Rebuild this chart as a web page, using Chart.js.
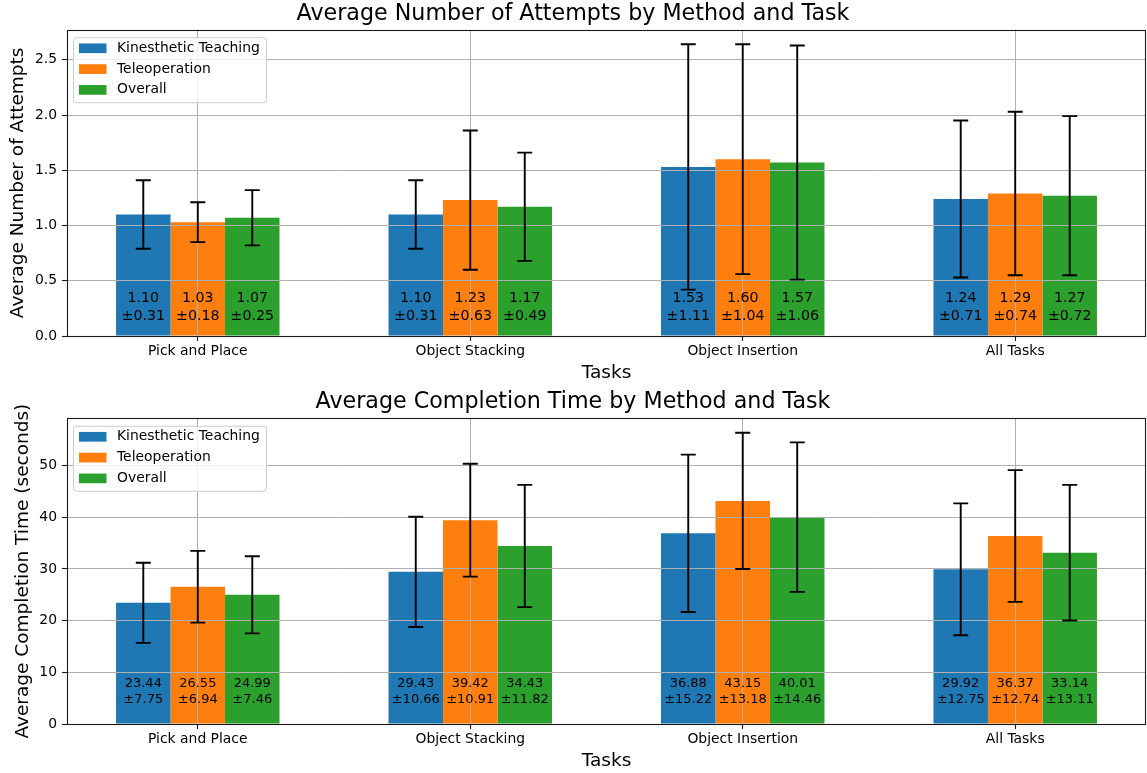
<!DOCTYPE html>
<html><head><meta charset="utf-8">
<script src="https://cdn.jsdelivr.net/npm/chart.js@4.4.1/dist/chart.umd.min.js"></script>
<style>
html,body{margin:0;padding:0;background:#fff;}
#wrap{position:relative;width:1147px;height:773px;overflow:hidden;background:#fff;}
#c1{position:absolute;left:0;top:0;}
#c2{position:absolute;left:0;top:386px;}
</style></head><body>
<div id="wrap"><canvas id="c1" width="1147" height="386"></canvas><canvas id="c2" width="1147" height="387"></canvas></div>
<script>
// ---- data ----
const tasks = ['Pick and Place', 'Object Stacking', 'Object Insertion', 'All Tasks'];
const methods = ['Kinesthetic Teaching', 'Teleoperation', 'Overall'];
const methodColors = ['#1f77b4', '#ff7f0e', '#2ca02c'];

const attemptsKT = [1.10, 1.10, 1.53, 1.24];
const attemptsKTStd = [0.31, 0.31, 1.11, 0.71];
const attemptsTele = [1.03, 1.23, 1.60, 1.29];
const attemptsTeleStd = [0.18, 0.63, 1.04, 0.74];
const attemptsAll = [1.07, 1.17, 1.57, 1.27];
const attemptsAllStd = [0.25, 0.49, 1.06, 0.72];

const timeKT = [23.44, 29.43, 36.88, 29.92];
const timeKTStd = [7.75, 10.66, 15.22, 12.75];
const timeTele = [26.55, 39.42, 43.15, 36.37];
const timeTeleStd = [6.94, 10.91, 13.18, 12.74];
const timeAll = [24.99, 34.43, 40.01, 33.14];
const timeAllStd = [7.46, 11.82, 14.46, 13.11];

const attemptsTicks = [0, 0.5, 1.0, 1.5, 2.0, 2.5];
const timeTicks = [0, 10, 20, 30, 40, 50];

const FONT = "'DejaVu Sans', 'Liberation Sans', sans-serif";
Chart.defaults.font.family = FONT;
Chart.defaults.color = '#000';

const overlay = {
  id: 'overlay',
  afterDraw(chart, args, o) {
    const ctx = chart.ctx, ca = chart.chartArea, ys = chart.scales.y;
    ctx.save();
    // error bars
    ctx.strokeStyle = '#000';
    ctx.lineWidth = 1.9;
    chart.data.datasets.forEach((ds, di) => {
      const meta = chart.getDatasetMeta(di);
      meta.data.forEach((bar, i) => {
        const m = ds.data[i].y, s = ds.errors[i];
        const yTop = ys.getPixelForValue(m + s), yBot = ys.getPixelForValue(m - s);
        const x = bar.x, cw = 7.5;
        ctx.beginPath();
        ctx.moveTo(x, yTop); ctx.lineTo(x, yBot);
        ctx.moveTo(x - cw, yTop); ctx.lineTo(x + cw, yTop);
        ctx.moveTo(x - cw, yBot); ctx.lineTo(x + cw, yBot);
        ctx.stroke();
      });
    });
    // value labels
    ctx.fillStyle = '#000';
    ctx.textAlign = 'center';
    ctx.textBaseline = 'middle';
    ctx.font = o.valueFont + 'px ' + FONT;
    chart.data.datasets.forEach((ds, di) => {
      const meta = chart.getDatasetMeta(di);
      meta.data.forEach((bar, i) => {
        ctx.fillText(ds.data[i].y.toFixed(2), bar.x, ca.bottom - o.line1);
        ctx.fillText('\u00b1' + ds.errors[i].toFixed(2), bar.x, ca.bottom - o.line2);
      });
    });
    // frame (spines)
    ctx.strokeStyle = '#1a1a1a';
    ctx.lineWidth = 1.1;
    ctx.strokeRect(Math.round(ca.left) + 0.5, Math.round(ca.top) + 0.5, Math.round(ca.right - ca.left) - 1, Math.round(ca.bottom - ca.top));
    // legend
    const lx = ca.left + 6, ly = ca.top + 7.5, lw = 193, lh = 65;
    ctx.beginPath();
    if (ctx.roundRect) ctx.roundRect(lx + 0.5, ly + 0.5, lw, lh, 3); else ctx.rect(lx + 0.5, ly + 0.5, lw, lh);
    ctx.fillStyle = 'rgba(255,255,255,0.8)';
    ctx.fill();
    ctx.strokeStyle = '#cccccc';
    ctx.lineWidth = 1;
    ctx.stroke();
    ctx.textAlign = 'left';
    ctx.font = '13.9px ' + FONT;
    chart.data.datasets.forEach((ds, di) => {
      const cy = ly + 11 + di * 20.8;
      ctx.fillStyle = ds.backgroundColor;
      ctx.fillRect(lx + 6, cy - 4.8, 27.5, 9.7);
      ctx.fillStyle = '#000';
      ctx.fillText(ds.label, lx + 44, cy);
    });
    ctx.restore();
  }
};

function makeChart(id, series, stds, ticks, cfg) {
  const datasets = methods.map((name, k) => ({
    label: name,
    data: series[k].map((v, i) => ({ x: i, y: v })),
    errors: stds[k],
    backgroundColor: methodColors[k],
    borderWidth: 0,
    categoryPercentage: 0.6,
    barPercentage: 1.0
  }));
  let top = 0;
  series.forEach((s, k) => s.forEach((v, i) => { top = Math.max(top, v + stds[k][i]); }));
  return new Chart(document.getElementById(id), {
    type: 'bar',
    data: { datasets },
    plugins: [overlay],
    options: {
      responsive: false,
      animation: false,
      devicePixelRatio: 1,
      layout: { padding: { left: 0, right: 1, top: 0, bottom: 0 } },
      plugins: {
        legend: { display: false },
        tooltip: { enabled: false },
        title: {
          display: true, text: cfg.title, color: '#000',
          font: { size: 22.2, weight: 'normal', lineHeight: 1.2 },
          padding: cfg.titlePad
        },
        overlay: { valueFont: cfg.valueFont, line1: cfg.line1, line2: cfg.line2 }
      },
      scales: {
        x: {
          type: 'linear', min: -0.48, max: 3.48, offset: false,
          afterBuildTicks: (s) => { s.ticks = tasks.map((t, i) => ({ value: i })); },
          afterFit: (s) => { s.height = cfg.xHeight; },
          ticks: { callback: (v) => tasks[v], font: { size: 13.9 }, color: '#000', padding: 2, maxRotation: 0, autoSkip: false, includeBounds: false },
          grid: { z: 1, offset: false, color: '#b0b0b0', lineWidth: 1, tickLength: 5, tickColor: '#1a1a1a', tickWidth: 1.1 },
          border: { display: false },
          title: { display: true, text: 'Tasks', color: '#000', font: { size: 18.5, lineHeight: 1.2 }, padding: { top: 0, bottom: cfg.xTitlePad } }
        },
        y: {
          type: 'linear', min: 0, max: top * 1.05,
          afterBuildTicks: (s) => { s.ticks = ticks.map(v => ({ value: v })); },
          afterFit: (s) => { s.width = 67; },
          ticks: { callback: cfg.yFmt, font: { size: 13.9 }, color: '#000', padding: 5, includeBounds: false },
          grid: { z: 1, color: '#b0b0b0', lineWidth: 1, tickLength: 5, tickColor: '#1a1a1a', tickWidth: 1.1 },
          border: { display: false },
          title: { display: true, text: cfg.yTitle, color: '#000', font: { size: 18.5, lineHeight: 1.2 }, padding: { top: cfg.yTitlePad, bottom: 0 } }
        }
      }
    }
  });
}

makeChart('c1', [attemptsKT, attemptsTele, attemptsAll], [attemptsKTStd, attemptsTeleStd, attemptsAllStd], attemptsTicks, {
  title: 'Average Number of Attempts by Method and Task',
  titlePad: { top: 0.5, bottom: 2.6 },
  yTitle: 'Average Number of Attempts',
  yTitlePad: 7.5,
  yFmt: (v) => Number(v).toFixed(1),
  xHeight: 50, xTitlePad: 1.9,
  valueFont: 14.2, line1: 38, line2: 20
});
makeChart('c2', [timeKT, timeTele, timeAll], [timeKTStd, timeTeleStd, timeAllStd], timeTicks, {
  title: 'Average Completion Time by Method and Task',
  titlePad: { top: 2.8, bottom: 2.8 },
  yTitle: 'Average Completion Time (seconds)',
  yTitlePad: 12.5,
  yFmt: (v) => String(v),
  xHeight: 49, xTitlePad: 0.9,
  valueFont: 13, line1: 40, line2: 24
});
</script>
</body></html>
